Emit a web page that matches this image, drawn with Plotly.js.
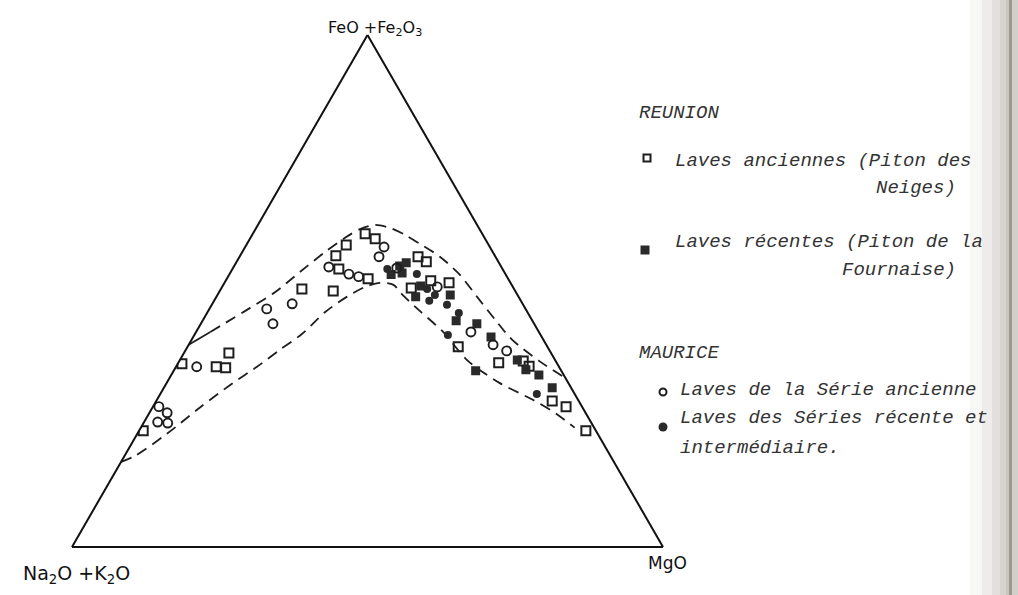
<!DOCTYPE html>
<html>
<head>
<meta charset="utf-8">
<script src="https://cdn.plot.ly/plotly-3.0.1.min.js"></script>
<style>html,body{margin:0;padding:0;background:#fff;}#chart{width:1018px;height:595px;}</style>
</head>
<body>
<div id="chart"></div>
<script>
// Apex labels
const labelA = 'FeO +Fe<sub>2</sub>O<sub>3</sub>';
const labelB = 'Na<sub>2</sub>O +K<sub>2</sub>O';
const labelC = 'MgO';

// Series names
const nameReunionOld = 'Laves anciennes (Piton des Neiges)';
const nameReunionNew = 'Laves récentes (Piton de la Fournaise)';
const nameMauriceOld = 'Laves de la Série ancienne';
const nameMauriceNew = 'Laves des Séries récente et intermédiaire.';

// REUNION – laves anciennes (open squares): a = FeO+Fe2O3, b = Na2O+K2O, c = MgO
const roA = [37.9,35.8,35.2,35.0,22.7,50.4,50.0,59.0,56.9,54.3,52.4,61.2,60.2,56.7,55.7,50.6,52.0,51.6,39.1,36.0,36.3,34.6,28.5,27.4,22.7];
const roB = [54.5,63.5,58.0,56.5,76.6,35.9,30.8,24.1,26.9,27.7,23.7,19.8,18.6,13.1,12.2,17.3,13.3,10.4,15.1, 9.8, 5.5, 4.9, 4.5, 2.7, 1.7];
const roC = [ 7.6, 0.7, 6.8, 8.5, 0.7,13.7,19.2,16.9,16.2,18.0,23.9,19.0,21.2,30.2,32.1,32.1,34.7,38.0,45.8,54.2,58.2,58.5,67.0,69.9,75.6];

// REUNION – laves récentes (filled squares)
const rnA = [53.2,54.9,55.5,53.5,51.0,48.9,49.2,44.2,43.6,41.0,36.5,34.6,34.4,33.6,31.1];
const rnB = [19.4,17.1,15.7,17.4,15.5,17.4,11.4,12.9, 9.7, 8.6, 6.4, 5.9,14.5, 4.2, 3.2];
const rnC = [27.4,28.0,28.8,29.1,33.5,33.7,39.4,42.9,46.7,50.4,57.1,59.5,51.1,62.2,65.7];

// MAURICE – série ancienne (open circles)
const moA = [46.5,43.6,47.5,35.2,27.4,26.2,24.4,24.2,54.7,53.3,52.8,58.6,56.7,54.5,50.8,42.0,39.5,38.3];
const moB = [43.8,44.2,39.0,61.3,71.6,70.8,73.3,71.7,29.2,26.5,25.1,17.9,19.7,17.8,12.8,11.5, 9.0, 7.3];
const moC = [ 9.7,12.2,13.5, 3.5, 1.0, 3.0, 2.3, 4.1,16.1,20.2,22.1,23.5,23.6,27.7,36.4,46.5,51.5,54.4];

// MAURICE – séries récente et intermédiaire (filled circles)
const mnA = [54.3,53.3,50.4,49.2,48.1,47.3,45.7,41.4,29.9];
const mnB = [19.5,15.0,14.7,14.0,15.5,12.9,11.7,15.7, 6.4];
const mnC = [26.2,31.7,34.9,36.8,36.4,39.8,42.6,42.9,63.7];

// Envelope – upper limit (first two points drawn solid, rest dashed)
const upA = [39.5,42.0,46.7,49.8,53.7,57.6,60.4,62.1,62.9,62.3,61.0,59.2,56.7,53.2,48.7,44.4,40.5,36.2,33.0];
const upB = [60.5,55.6,46.5,40.7,34.6,28.4,23.6,20.2,17.3,15.0,13.2,11.5, 9.4, 7.8, 7.0, 6.2, 5.3, 2.7, 0.0];
const upC = [ 0.0, 2.4, 6.8, 9.5,11.7,14.0,16.0,17.7,19.8,22.7,25.8,29.3,33.9,39.0,44.3,49.4,54.2,61.1,67.0];

// Envelope – lower limit
const loA = [16.6,17.8,22.1,27.2,32.0,35.2,38.5,41.6,45.9,48.9,50.8,51.6,51.2,49.4,46.1,42.0,36.5,32.0,28.7,26.2,23.3];
const loB = [83.4,80.4,72.9,64.8,56.8,51.1,45.6,40.3,34.2,29.0,25.0,22.1,20.0,19.5,18.1,16.2,14.9,11.6, 7.6, 5.2, 3.3];
const loC = [ 0.0, 1.8, 5.0, 8.0,11.2,13.7,15.9,18.1,19.9,22.1,24.2,26.3,28.8,31.1,35.8,41.8,48.6,56.4,63.7,68.6,73.4];

// Legend texts
const legReunion = 'REUNION';
const legMaurice = 'MAURICE';
const legLines = [
  'Laves anciennes (Piton des', 'Neiges)',
  'Laves récentes (Piton de la', 'Fournaise)',
  'Laves de la Série ancienne',
  'Laves des Séries récente et', 'intermédiaire.'
];

const ink = '#1e1e1e';
const dashStyle = {color: ink, width: 1.8, dash: '11px,7px', shape: 'spline', smoothing: 0.8};

const traces = [
  {type:'scatterternary', mode:'lines', name:'upper solid', a:upA.slice(0,2), b:upB.slice(0,2), c:upC.slice(0,2),
   line:{color:ink, width:1.8}, hoverinfo:'skip'},
  {type:'scatterternary', mode:'lines', name:'upper', a:upA.slice(1), b:upB.slice(1), c:upC.slice(1),
   line:dashStyle, hoverinfo:'skip'},
  {type:'scatterternary', mode:'lines', name:'lower', a:loA, b:loB, c:loC,
   line:dashStyle, hoverinfo:'skip'},
  {type:'scatterternary', mode:'markers', name:nameReunionOld, a:roA, b:roB, c:roC,
   marker:{symbol:'square-open', size:9, color:ink, line:{width:2}}},
  {type:'scatterternary', mode:'markers', name:nameReunionNew, a:rnA, b:rnB, c:rnC,
   marker:{symbol:'square', size:9, color:'#2a2a2a', line:{width:0}}},
  {type:'scatterternary', mode:'markers', name:nameMauriceOld, a:moA, b:moB, c:moC,
   marker:{symbol:'circle-open', size:9, color:ink, line:{width:1.9}}},
  {type:'scatterternary', mode:'markers', name:nameMauriceNew, a:mnA, b:mnB, c:mnC,
   marker:{symbol:'circle', size:8, color:'#2a2a2a', line:{width:0}}}
];

const W = 1018, H = 595;
const px = v => v / W;
const py = v => 1 - v / H;

const axisBase = {
  showgrid:false, showticklabels:false, ticks:'', linecolor:'#111', linewidth:2, min:0,
  title:{text:''}
};

const legFont = {family:'Liberation Mono', size:19, color:'#333', style:'italic'};
function ann(text, x, y, anchor, font) {
  return {xref:'paper', yref:'paper', x:px(x), y:py(y), xanchor:anchor||'left', yanchor:'middle',
          text:text, showarrow:false, font:font||legFont};
}
const labFont = s => ({family:'DejaVu Sans', size:s, color:'#111'});

const annotations = [
  ann(labelA, 375, 28, 'center', labFont(16)),
  ann(labelB, 76, 574, 'center', labFont(19)),
  ann(labelC, 667, 563, 'center', labFont(17)),
  ann(legReunion, 637, 113),
  ann(legLines[0], 673, 161),
  ann(legLines[1], 958, 188, 'right'),
  ann(legLines[2], 673, 242),
  ann(legLines[3], 958, 270, 'right'),
  ann(legMaurice, 637, 353),
  ann(legLines[4], 678, 390),
  ann(legLines[5], 678, 418),
  ann(legLines[6], 678, 448)
];

function keyShape(type, x, y, half, filled) {
  return {type:type, xref:'paper', yref:'paper', xsizemode:'pixel', ysizemode:'pixel',
          xanchor:px(x), yanchor:py(y), x0:-half, x1:half, y0:-half, y1:half,
          line:{color:ink, width:filled?0:2}, fillcolor:filled?'#2a2a2a':'rgba(0,0,0,0)'};
}

const shade = (x0, x1, a) => ({type:'rect', xref:'paper', yref:'paper', x0:px(x0), x1:px(x1), y0:0, y1:1,
  line:{width:0}, fillcolor:'rgba(105,100,80,'+a+')', layer:'below'});

const shapes = [
  shade(970, 982, 0.05), shade(982, 992, 0.12), shade(992, 1000, 0.2), shade(1000, 1006, 0.28),
  shade(1006, 1009, 0.36), shade(1009, 1012, 0.65), shade(1012, 1018, 0.3),
  keyShape('rect', 647, 158, 3.5, false),
  keyShape('rect', 645, 250, 4.5, true),
  keyShape('circle', 663, 392, 3.5, false),
  keyShape('circle', 663, 427, 4.5, true)
];

const layout = {
  width: W, height: H,
  margin:{l:0, r:0, t:0, b:0},
  paper_bgcolor:'#ffffff',
  showlegend:false,
  ternary:{
    sum:100,
    bgcolor:'rgba(0,0,0,0)',
    domain:{x:[72/W, 663/W], y:[48/H, 560/H]},
    aaxis:axisBase, baxis:axisBase, caxis:axisBase
  },
  annotations: annotations,
  shapes: shapes
};

Plotly.newPlot('chart', traces, layout, {displayModeBar:false, staticPlot:true});
</script>
</body>
</html>
